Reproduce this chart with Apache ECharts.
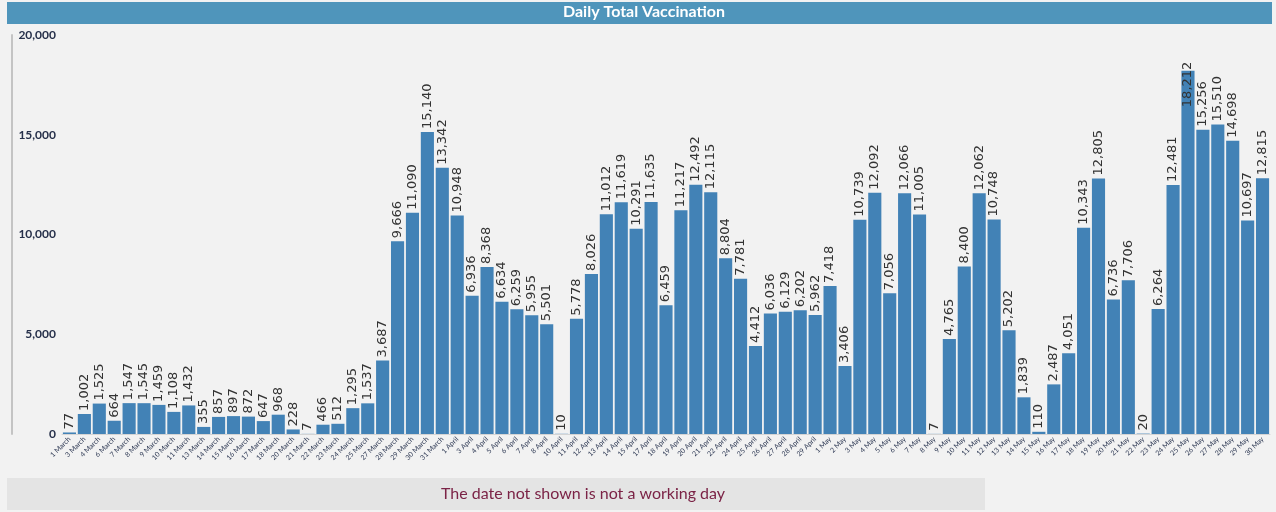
<!DOCTYPE html>
<html>
<head>
<meta charset="utf-8">
<script src="https://cdn.jsdelivr.net/npm/echarts@6/dist/echarts.min.js"></script>
<style>
  html, body { margin: 0; padding: 0; background: #ffffff; }
  #chart { width: 1276px; height: 512px; }
</style>
</head>
<body>
<div id="chart"></div>
<script>
// ---- data ----
const marchDays = [1,3,4,6,7,8,9,10,11,13,14,15,16,17,18,20,21,22,23,24,25,27,28,29,30,31];
const aprilDays = [1,3,4,5,6,7,8,10,11,12,13,14,15,17,18,19,20,21,22,24,25,26,27,28,29];
const mayDays = [1,2,3,4,5,6,7,8,9,10,11,12,13,14,15,16,17,18,19,20,21,22,23,24,25,26,27,28,29,30];
const categories = []
  .concat(marchDays.map(d => d + ' March'))
  .concat(aprilDays.map(d => d + ' April'))
  .concat(mayDays.map(d => d + ' May'));
const vaccinations = [
  77,1002,1525,664,1547,1545,1459,1108,1432,355,
  857,897,872,647,968,228,7,466,512,1295,
  1537,3687,9666,11090,15140,13342,10948,6936,8368,6634,
  6259,5955,5501,10,5778,8026,11012,11619,10291,11635,
  6459,11217,12492,12115,8804,7781,4412,6036,6129,6202,
  5962,7418,3406,10739,12092,7056,12066,11005,7,4765,
  8400,12062,10748,5202,1839,110,2487,4051,10343,12805,
  6736,7706,20,6264,12481,18212,15256,15510,14698,10697,12815
];
const yTicks = [0, 5000, 10000, 15000, 20000];
const titleText = 'Daily Total Vaccination';
const noteText = 'The date not shown is not a working day';

// ---- chart ----
const fmt = v => Number(v).toLocaleString('en-US');
const chart = echarts.init(document.getElementById('chart'), null, { renderer: 'canvas' });

const barData = vaccinations.map(v => {
  if (v > 17000) {
    return { value: v, label: { align: 'right', distance: 9 } };
  }
  return v;
});

chart.setOption({
  backgroundColor: '#f2f2f2',
  animation: false,
  title: {
    text: titleText,
    left: 563,
    top: 4,
    padding: 0,
    z: 10,
    textStyle: { color: '#ffffff', fontSize: 16, fontWeight: 'bold', fontFamily: 'Lato' }
  },
  graphic: [
    { type: 'rect', z: 0, shape: { x: 7, y: 2, width: 1265, height: 22 }, style: { fill: '#4f95bb' } },
    { type: 'rect', z: 0, shape: { x: 7, y: 478, width: 978, height: 32 }, style: { fill: '#e4e4e4' } },
    { type: 'text', z: 1, x: 583, y: 494,
      style: { text: noteText, fill: '#7b2346', font: '16px Lato', textAlign: 'center', textVerticalAlign: 'middle' } }
  ],
  grid: { left: 62, right: 6, top: 35, bottom: 78, containLabel: false },
  xAxis: {
    type: 'category',
    data: categories,
    axisLine: { show: true, lineStyle: { color: '#d4d4d4', width: 1 } },
    axisTick: { show: false },
    axisLabel: {
      interval: 0, rotate: 45, fontSize: 7, color: '#2f3a55', margin: 4, fontFamily: 'Lato'
    }
  },
  yAxis: [
    {
      type: 'value', min: yTicks[0], max: yTicks[yTicks.length - 1], interval: yTicks[1] - yTicks[0],
      axisLine: { show: false }, axisTick: { show: false }, splitLine: { show: false },
      axisLabel: { formatter: fmt, fontSize: 12, fontWeight: 'bold', color: '#26304a', margin: 6, fontFamily: 'Lato' }
    },
    {
      type: 'value', position: 'left', offset: 50,
      min: yTicks[0], max: yTicks[yTicks.length - 1], interval: yTicks[1] - yTicks[0],
      axisLine: { show: true, lineStyle: { color: '#c4c4c4', width: 2 } },
      axisTick: { show: false }, splitLine: { show: false }, axisLabel: { show: false }
    }
  ],
  series: [{
    type: 'bar',
    yAxisIndex: 0,
    data: barData,
    barCategoryGap: '12%',
    itemStyle: { color: '#4282b6' },
    label: {
      show: true, position: 'top', distance: 3, rotate: 90,
      align: 'left', verticalAlign: 'middle',
      formatter: p => fmt(p.value),
      fontSize: 13, color: '#333333', fontFamily: 'DejaVu Sans'
    }
  }]
});
</script>
</body>
</html>
